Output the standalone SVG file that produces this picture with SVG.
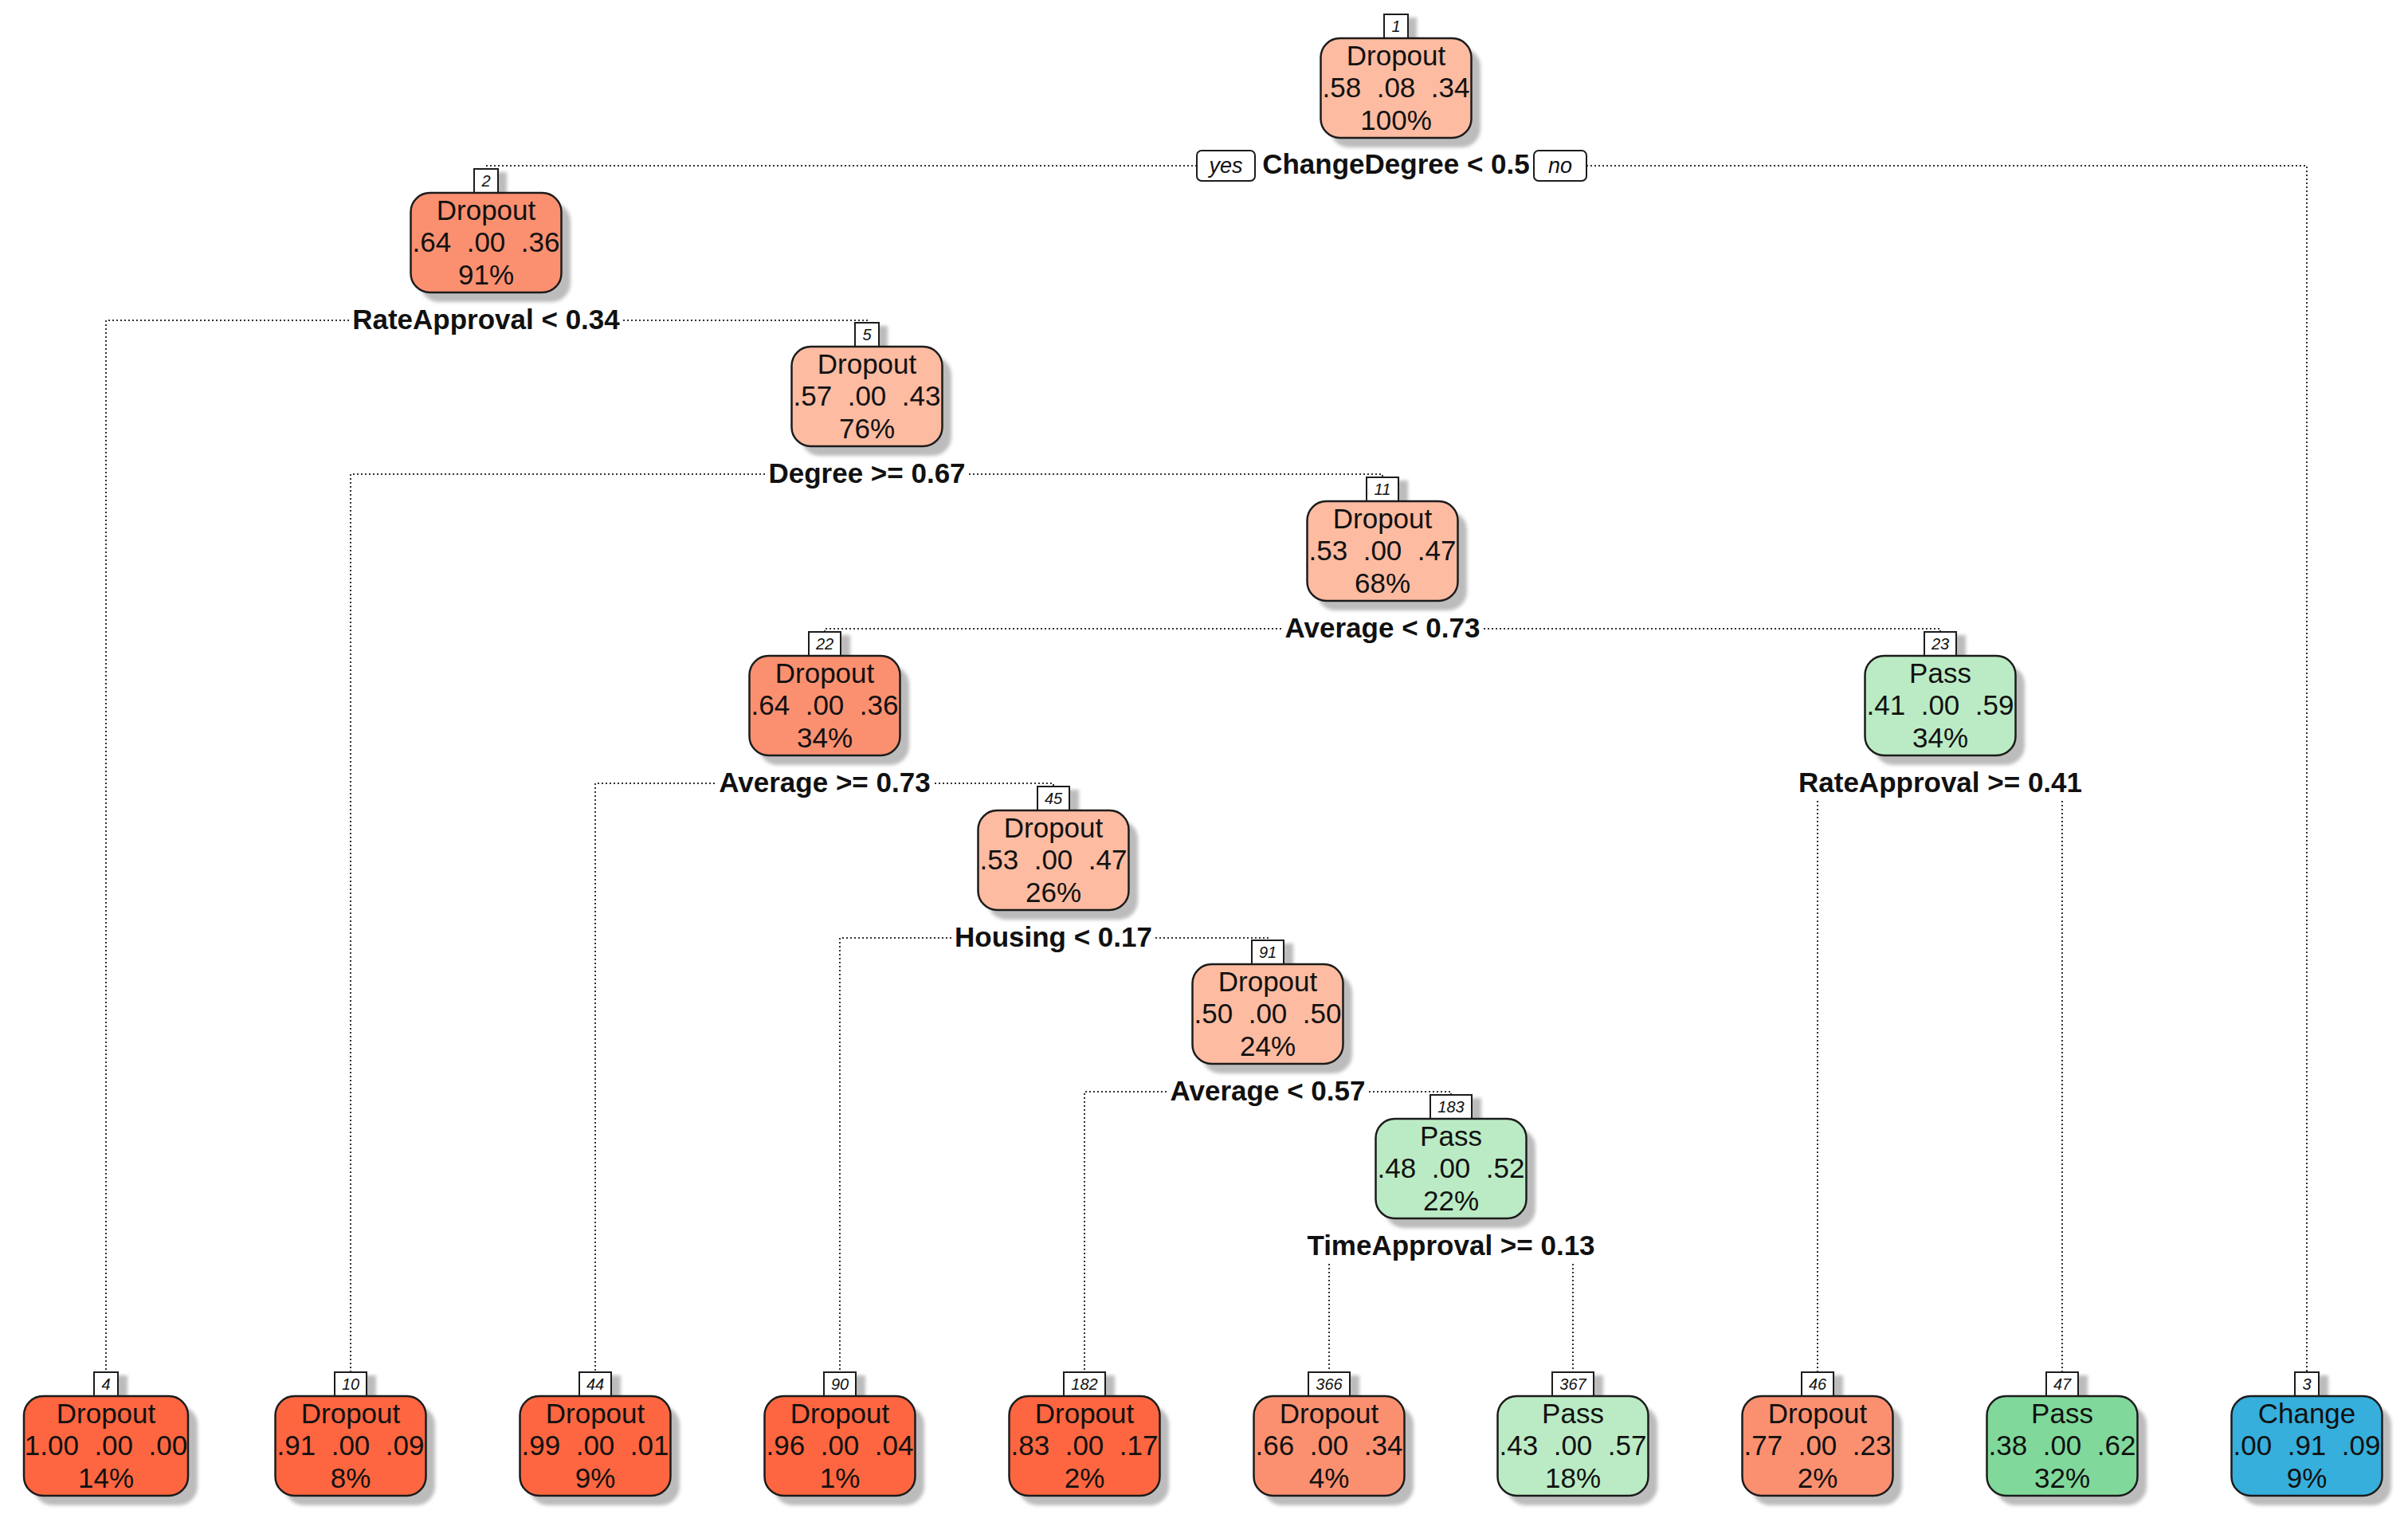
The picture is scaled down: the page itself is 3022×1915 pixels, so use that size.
<svg xmlns="http://www.w3.org/2000/svg" width="3022" height="1915" viewBox="0 0 3022 1915">
<defs>
<filter id="blur" x="-10%" y="-10%" width="130%" height="130%"><feGaussianBlur stdDeviation="2"/></filter>
</defs>
<style>
.sh{fill:#bcbcbc;filter:url(#blur)}
.box{stroke:#1c1c1c;stroke-width:2.5}
.nb{fill:#ffffff;stroke:#1c1c1c;stroke-width:2}
.nt{font-family:'Liberation Sans',Arial,sans-serif;font-style:italic;font-size:20px;text-anchor:middle;fill:#111}
.t{font-family:'Liberation Sans',Arial,sans-serif;font-size:35px;text-anchor:middle;fill:#111;white-space:pre}
.sp{font-family:'Liberation Sans',Arial,sans-serif;font-weight:bold;font-size:35px;text-anchor:middle;fill:#111}
.yn{font-family:'Liberation Sans',Arial,sans-serif;font-style:italic;font-size:27px;text-anchor:middle;fill:#111}
.ynb{fill:#fff;stroke:#1c1c1c;stroke-width:2}
.c1{fill:#fdbba1}
.c2{fill:#fb9070}
.c3{fill:#fd6640}
.g1{fill:#bbebc4}
.g2{fill:#80d99a}
.b1{fill:#36afdc}
#connectors path{fill:none;stroke:#333;stroke-width:2;stroke-dasharray:2 3}
</style>
<rect width="3022" height="1915" fill="#ffffff"/>

<g id="connectors">
<path d="M1502 208 H610 V212"/>
<path d="M1991 208 H2895 V1722"/>
<path d="M438 402 H133 V1722"/>
<path d="M782 402 H1088 V405"/>
<path d="M960 595 H440 V1722"/>
<path d="M1216 595 H1735 V599"/>
<path d="M1608 789 H1035 V793"/>
<path d="M1862 789 H2435 V793"/>
<path d="M897 983 H747 V1722"/>
<path d="M1173 983 H1322 V987"/>
<path d="M2281 1005 V1722"/>
<path d="M2588 1005 V1722"/>
<path d="M1194 1177 H1054 V1722"/>
<path d="M1450 1177 H1591 V1180"/>
<path d="M1464 1370 H1361 V1722"/>
<path d="M1718 1370 H1821 V1374"/>
<path d="M1668 1586 V1722"/>
<path d="M1974 1586 V1722"/>
</g>

<g id="node1">
<rect class="sh" x="1748" y="22" width="30" height="30"/>
<rect class="sh" x="1669" y="60" width="189" height="125" rx="24"/>
<rect class="nb" x="1737" y="18" width="30" height="30"/>
<text class="nt" x="1752" y="40">1</text>
<rect class="box c1" x="1657.5" y="48" width="189" height="125" rx="24"/>
<text class="t" x="1752" y="82">Dropout</text>
<text class="t" x="1752" y="122" xml:space="preserve">.58  .08  .34</text>
<text class="t" x="1752" y="163">100%</text>
<rect class="ynb" x="1502" y="189" width="73" height="38" rx="6"/>
<text class="yn" x="1538.5" y="217">yes</text>
<text class="sp" x="1752" y="218">ChangeDegree &lt; 0.5</text>
<rect class="ynb" x="1925" y="189" width="66" height="38" rx="6"/>
<text class="yn" x="1958" y="217">no</text>
</g>

<g id="node2">
<rect class="sh" x="606" y="216" width="30" height="30"/>
<rect class="sh" x="527" y="254" width="189" height="125" rx="24"/>
<rect class="nb" x="595" y="212" width="30" height="30"/>
<text class="nt" x="610" y="234">2</text>
<rect class="box c2" x="515.5" y="242" width="189" height="125" rx="24"/>
<text class="t" x="610" y="276">Dropout</text>
<text class="t" x="610" y="316" xml:space="preserve">.64  .00  .36</text>
<text class="t" x="610" y="357">91%</text>
<text class="sp" x="610" y="413">RateApproval &lt; 0.34</text>
</g>

<g id="node5">
<rect class="sh" x="1084" y="409" width="30" height="30"/>
<rect class="sh" x="1005" y="447" width="189" height="125" rx="24"/>
<rect class="nb" x="1073" y="405" width="30" height="30"/>
<text class="nt" x="1088" y="427">5</text>
<rect class="box c1" x="993.5" y="435" width="189" height="125" rx="24"/>
<text class="t" x="1088" y="469">Dropout</text>
<text class="t" x="1088" y="509" xml:space="preserve">.57  .00  .43</text>
<text class="t" x="1088" y="550">76%</text>
<text class="sp" x="1088" y="606">Degree &gt;= 0.67</text>
</g>

<g id="node11">
<rect class="sh" x="1727" y="603" width="40" height="30"/>
<rect class="sh" x="1652" y="641" width="189" height="125" rx="24"/>
<rect class="nb" x="1715" y="599" width="40" height="30"/>
<text class="nt" x="1735" y="621">11</text>
<rect class="box c1" x="1640.5" y="629" width="189" height="125" rx="24"/>
<text class="t" x="1735" y="663">Dropout</text>
<text class="t" x="1735" y="703" xml:space="preserve">.53  .00  .47</text>
<text class="t" x="1735" y="744">68%</text>
<text class="sp" x="1735" y="800">Average &lt; 0.73</text>
</g>

<g id="node22">
<rect class="sh" x="1027" y="797" width="40" height="30"/>
<rect class="sh" x="952" y="835" width="189" height="125" rx="24"/>
<rect class="nb" x="1015" y="793" width="40" height="30"/>
<text class="nt" x="1035" y="815">22</text>
<rect class="box c2" x="940.5" y="823" width="189" height="125" rx="24"/>
<text class="t" x="1035" y="857">Dropout</text>
<text class="t" x="1035" y="897" xml:space="preserve">.64  .00  .36</text>
<text class="t" x="1035" y="938">34%</text>
<text class="sp" x="1035" y="994">Average &gt;= 0.73</text>
</g>

<g id="node23">
<rect class="sh" x="2427" y="797" width="40" height="30"/>
<rect class="sh" x="2352" y="835" width="189" height="125" rx="24"/>
<rect class="nb" x="2415" y="793" width="40" height="30"/>
<text class="nt" x="2435" y="815">23</text>
<rect class="box g1" x="2340.5" y="823" width="189" height="125" rx="24"/>
<text class="t" x="2435" y="857">Pass</text>
<text class="t" x="2435" y="897" xml:space="preserve">.41  .00  .59</text>
<text class="t" x="2435" y="938">34%</text>
<text class="sp" x="2435" y="994">RateApproval &gt;= 0.41</text>
</g>

<g id="node45">
<rect class="sh" x="1314" y="991" width="40" height="30"/>
<rect class="sh" x="1239" y="1029" width="189" height="125" rx="24"/>
<rect class="nb" x="1302" y="987" width="40" height="30"/>
<text class="nt" x="1322" y="1009">45</text>
<rect class="box c1" x="1227.5" y="1017" width="189" height="125" rx="24"/>
<text class="t" x="1322" y="1051">Dropout</text>
<text class="t" x="1322" y="1091" xml:space="preserve">.53  .00  .47</text>
<text class="t" x="1322" y="1132">26%</text>
<text class="sp" x="1322" y="1188">Housing &lt; 0.17</text>
</g>

<g id="node91">
<rect class="sh" x="1583" y="1184" width="40" height="30"/>
<rect class="sh" x="1508" y="1222" width="189" height="125" rx="24"/>
<rect class="nb" x="1571" y="1180" width="40" height="30"/>
<text class="nt" x="1591" y="1202">91</text>
<rect class="box c1" x="1496.5" y="1210" width="189" height="125" rx="24"/>
<text class="t" x="1591" y="1244">Dropout</text>
<text class="t" x="1591" y="1284" xml:space="preserve">.50  .00  .50</text>
<text class="t" x="1591" y="1325">24%</text>
<text class="sp" x="1591" y="1381">Average &lt; 0.57</text>
</g>

<g id="node183">
<rect class="sh" x="1807" y="1378" width="52" height="30"/>
<rect class="sh" x="1738" y="1416" width="189" height="125" rx="24"/>
<rect class="nb" x="1795" y="1374" width="52" height="30"/>
<text class="nt" x="1821" y="1396">183</text>
<rect class="box g1" x="1726.5" y="1404" width="189" height="125" rx="24"/>
<text class="t" x="1821" y="1438">Pass</text>
<text class="t" x="1821" y="1478" xml:space="preserve">.48  .00  .52</text>
<text class="t" x="1821" y="1519">22%</text>
<text class="sp" x="1821" y="1575">TimeApproval &gt;= 0.13</text>
</g>

<g id="leaf4">
<rect class="sh" x="130" y="1726" width="30" height="30"/>
<rect class="sh" x="42" y="1764" width="206" height="125" rx="24"/>
<rect class="nb" x="118" y="1722" width="30" height="30"/>
<text class="nt" x="133" y="1744">4</text>
<rect class="box c3" x="30" y="1752" width="206" height="125" rx="24"/>
<text class="t" x="133" y="1786">Dropout</text>
<text class="t" x="133" y="1826" xml:space="preserve">1.00  .00  .00</text>
<text class="t" x="133" y="1867">14%</text>
</g>

<g id="leaf10">
<rect class="sh" x="432" y="1726" width="40" height="30"/>
<rect class="sh" x="357" y="1764" width="189" height="125" rx="24"/>
<rect class="nb" x="420" y="1722" width="40" height="30"/>
<text class="nt" x="440" y="1744">10</text>
<rect class="box c3" x="345.5" y="1752" width="189" height="125" rx="24"/>
<text class="t" x="440" y="1786">Dropout</text>
<text class="t" x="440" y="1826" xml:space="preserve">.91  .00  .09</text>
<text class="t" x="440" y="1867">8%</text>
</g>

<g id="leaf44">
<rect class="sh" x="739" y="1726" width="40" height="30"/>
<rect class="sh" x="664" y="1764" width="189" height="125" rx="24"/>
<rect class="nb" x="727" y="1722" width="40" height="30"/>
<text class="nt" x="747" y="1744">44</text>
<rect class="box c3" x="652.5" y="1752" width="189" height="125" rx="24"/>
<text class="t" x="747" y="1786">Dropout</text>
<text class="t" x="747" y="1826" xml:space="preserve">.99  .00  .01</text>
<text class="t" x="747" y="1867">9%</text>
</g>

<g id="leaf90">
<rect class="sh" x="1046" y="1726" width="40" height="30"/>
<rect class="sh" x="971" y="1764" width="189" height="125" rx="24"/>
<rect class="nb" x="1034" y="1722" width="40" height="30"/>
<text class="nt" x="1054" y="1744">90</text>
<rect class="box c3" x="959.5" y="1752" width="189" height="125" rx="24"/>
<text class="t" x="1054" y="1786">Dropout</text>
<text class="t" x="1054" y="1826" xml:space="preserve">.96  .00  .04</text>
<text class="t" x="1054" y="1867">1%</text>
</g>

<g id="leaf182">
<rect class="sh" x="1347" y="1726" width="52" height="30"/>
<rect class="sh" x="1278" y="1764" width="189" height="125" rx="24"/>
<rect class="nb" x="1335" y="1722" width="52" height="30"/>
<text class="nt" x="1361" y="1744">182</text>
<rect class="box c3" x="1266.5" y="1752" width="189" height="125" rx="24"/>
<text class="t" x="1361" y="1786">Dropout</text>
<text class="t" x="1361" y="1826" xml:space="preserve">.83  .00  .17</text>
<text class="t" x="1361" y="1867">2%</text>
</g>

<g id="leaf366">
<rect class="sh" x="1654" y="1726" width="52" height="30"/>
<rect class="sh" x="1585" y="1764" width="189" height="125" rx="24"/>
<rect class="nb" x="1642" y="1722" width="52" height="30"/>
<text class="nt" x="1668" y="1744">366</text>
<rect class="box c2" x="1573.5" y="1752" width="189" height="125" rx="24"/>
<text class="t" x="1668" y="1786">Dropout</text>
<text class="t" x="1668" y="1826" xml:space="preserve">.66  .00  .34</text>
<text class="t" x="1668" y="1867">4%</text>
</g>

<g id="leaf367">
<rect class="sh" x="1960" y="1726" width="52" height="30"/>
<rect class="sh" x="1891" y="1764" width="189" height="125" rx="24"/>
<rect class="nb" x="1948" y="1722" width="52" height="30"/>
<text class="nt" x="1974" y="1744">367</text>
<rect class="box g1" x="1879.5" y="1752" width="189" height="125" rx="24"/>
<text class="t" x="1974" y="1786">Pass</text>
<text class="t" x="1974" y="1826" xml:space="preserve">.43  .00  .57</text>
<text class="t" x="1974" y="1867">18%</text>
</g>

<g id="leaf46">
<rect class="sh" x="2273" y="1726" width="40" height="30"/>
<rect class="sh" x="2198" y="1764" width="189" height="125" rx="24"/>
<rect class="nb" x="2261" y="1722" width="40" height="30"/>
<text class="nt" x="2281" y="1744">46</text>
<rect class="box c2" x="2186.5" y="1752" width="189" height="125" rx="24"/>
<text class="t" x="2281" y="1786">Dropout</text>
<text class="t" x="2281" y="1826" xml:space="preserve">.77  .00  .23</text>
<text class="t" x="2281" y="1867">2%</text>
</g>

<g id="leaf47">
<rect class="sh" x="2580" y="1726" width="40" height="30"/>
<rect class="sh" x="2505" y="1764" width="189" height="125" rx="24"/>
<rect class="nb" x="2568" y="1722" width="40" height="30"/>
<text class="nt" x="2588" y="1744">47</text>
<rect class="box g2" x="2493.5" y="1752" width="189" height="125" rx="24"/>
<text class="t" x="2588" y="1786">Pass</text>
<text class="t" x="2588" y="1826" xml:space="preserve">.38  .00  .62</text>
<text class="t" x="2588" y="1867">32%</text>
</g>

<g id="leaf3">
<rect class="sh" x="2892" y="1726" width="30" height="30"/>
<rect class="sh" x="2812" y="1764" width="189" height="125" rx="24"/>
<rect class="nb" x="2880" y="1722" width="30" height="30"/>
<text class="nt" x="2895" y="1744">3</text>
<rect class="box b1" x="2800.5" y="1752" width="189" height="125" rx="24"/>
<text class="t" x="2895" y="1786">Change</text>
<text class="t" x="2895" y="1826" xml:space="preserve">.00  .91  .09</text>
<text class="t" x="2895" y="1867">9%</text>
</g>
</svg>
